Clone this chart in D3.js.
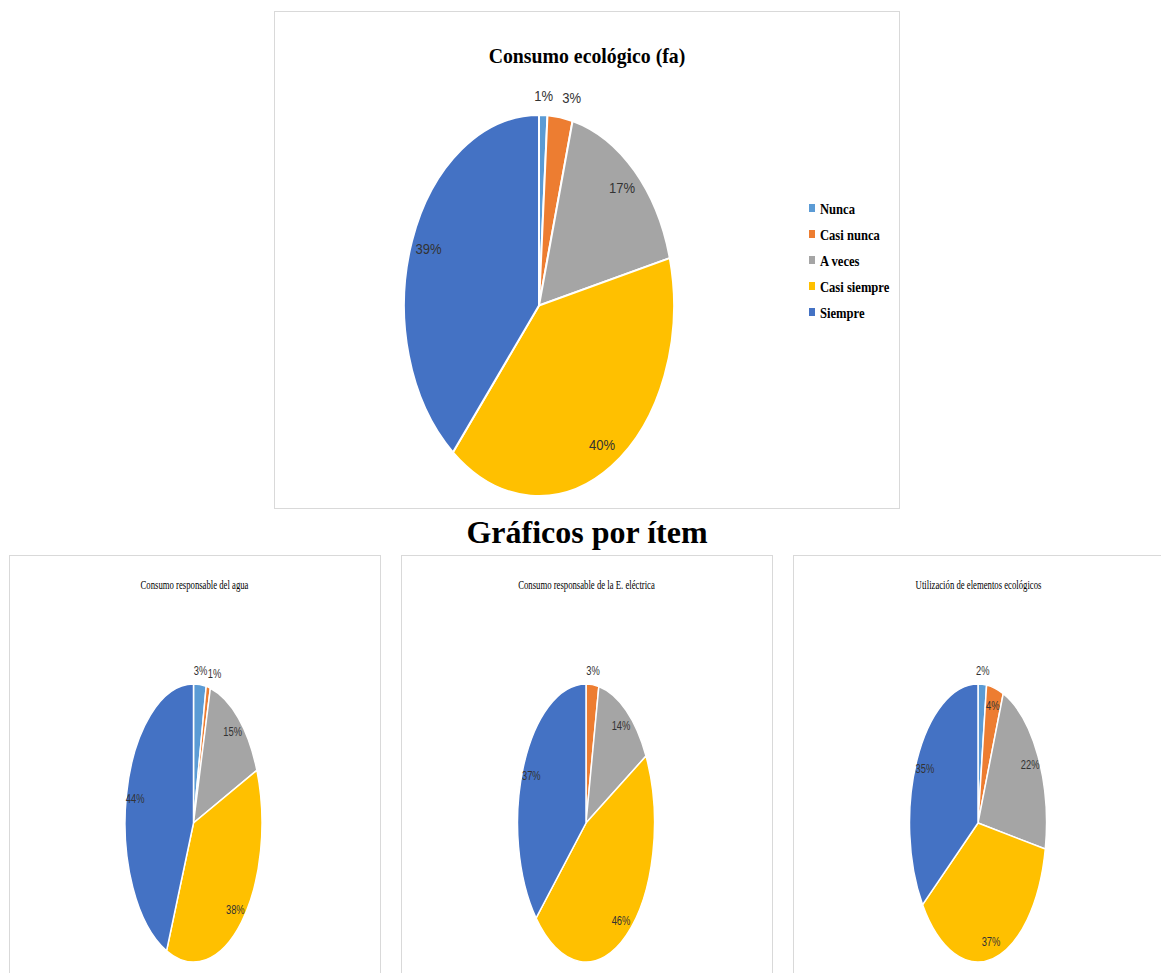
<!DOCTYPE html>
<html>
<head>
<meta charset="utf-8">
<script src="https://cdn.jsdelivr.net/npm/d3@7"></script>
<style>
  html, body { margin: 0; padding: 0; background: #fff; }
  svg { display: block; }
</style>
</head>
<body>
<svg id="chart" width="1161" height="973"></svg>
<script>
// Response categories and their colours
const categories = ["Nunca", "Casi nunca", "A veces", "Casi siempre", "Siempre"];
const colors = ["#5B9BD5", "#ED7D31", "#A5A5A5", "#FFC000", "#4472C4"];

// Overall result (percentages)
const mainTitle = "Consumo ecológico (fa)";
const mainValues = [1, 3, 17, 40, 39];

// Per-item results (percentages)
const sectionTitle = "Gráficos por ítem";
const itemTitles = [
  "Consumo responsable del agua",
  "Consumo responsable de la E. eléctrica",
  "Utilización de elementos ecológicos"
];
const waterValues = [3, 1, 15, 38, 44];
const electricValues = [0, 3, 14, 46, 37];
const ecoValues = [2, 4, 22, 37, 35];

const svg = d3.select("#chart");
const color = d3.scaleOrdinal().domain(categories).range(colors);
const pie = d3.pie().sort(null).value(d => d.value);

function frame(x, y, w, h) {
  svg.append("rect")
    .attr("x", x + 0.5).attr("y", y + 0.5)
    .attr("width", w).attr("height", h)
    .attr("fill", "#fff")
    .attr("stroke", "#d9d9d9").attr("stroke-width", 1);
}

// Elliptical pie: a fixed-radius arc scaled to (rx, ry)
function drawPie(values, cx, cy, rx, ry, opts) {
  const data = categories.map((c, i) => ({ cat: c, value: values[i] }));
  const arcs = pie(data);
  const R = 100;
  const arc = d3.arc().innerRadius(0).outerRadius(R);
  const g = svg.append("g").attr("transform", `translate(${cx},${cy}) scale(${rx / R},${ry / R})`);
  g.selectAll("path")
    .data(arcs.filter(a => a.data.value > 0))
    .join("path")
    .attr("d", arc)
    .attr("fill", d => color(d.data.cat))
    .attr("stroke", "#fff")
    .attr("stroke-width", opts.stroke)
    .attr("vector-effect", "non-scaling-stroke");

  // Data labels: inside for larger slices, above the rim for small ones
  const labels = [];
  arcs.forEach(a => {
    if (a.data.value <= 0) return;
    const mid = (a.startAngle + a.endAngle) / 2;
    const inside = a.data.value >= 4;
    const f = inside ? opts.inner : 1.1;
    labels.push({
      text: a.data.value + "%",
      x: cx + rx * f * Math.sin(mid),
      y: cy - ry * f * Math.cos(mid),
      inside
    });
  });
  // push apart neighbouring outer labels
  const outer = labels.filter(l => !l.inside);
  for (let i = 1; i < outer.length; i++) {
    const minGap = opts.labelGap;
    if (outer[i].x - outer[i - 1].x < minGap) outer[i].x = outer[i - 1].x + minGap;
  }
  labels.forEach(l => {
    svg.append("text")
      .attr("transform", `translate(${l.x},${l.y}) scale(${opts.labelScale},1)`)
      .attr("text-anchor", "middle")
      .attr("dominant-baseline", "central")
      .attr("font-family", "Liberation Sans, Arial, sans-serif")
      .attr("font-size", opts.labelSize)
      .attr("fill", "#333")
      .text(l.text);
  });
}

// ---- Main chart ----
frame(274, 11, 625, 497);
svg.append("text")
  .attr("transform", "translate(587,63) scale(0.9,1)")
  .attr("text-anchor", "middle")
  .attr("font-family", "Liberation Serif, Times New Roman, serif")
  .attr("font-weight", "bold")
  .attr("font-size", 22)
  .attr("fill", "#000")
  .text(mainTitle);

drawPie(mainValues, 539, 305.5, 135, 190.5,
  { stroke: 2, inner: 0.87, labelSize: 14.5, labelScale: 0.9, labelGap: 28 });

// legend
const legend = svg.append("g");
categories.forEach((c, i) => {
  const y = 209 + i * 26;
  legend.append("rect")
    .attr("x", 809).attr("y", y - 5)
    .attr("width", 6).attr("height", 8)
    .attr("fill", color(c));
  legend.append("text")
    .attr("transform", `translate(820,${y + 5}) scale(0.9,1)`)
    .attr("font-family", "Liberation Serif, Times New Roman, serif")
    .attr("font-weight", "bold")
    .attr("font-size", 14)
    .attr("fill", "#000")
    .text(c);
});

// ---- Section heading ----
svg.append("text")
  .attr("x", 587).attr("y", 543)
  .attr("text-anchor", "middle")
  .attr("font-family", "Liberation Serif, Times New Roman, serif")
  .attr("font-weight", "bold")
  .attr("font-size", 32)
  .attr("fill", "#000")
  .text(sectionTitle);

// ---- Item charts ----
const itemValues = [waterValues, electricValues, ecoValues];
const panels = [
  { x: 9, w: 371, cx: 193.5 },
  { x: 401, w: 371, cx: 586 },
  { x: 793, w: 371, cx: 978 }
];
panels.forEach((p, i) => {
  frame(p.x, 555, p.w, 430);
  svg.append("text")
    .attr("transform", `translate(${p.x + p.w / 2},${589}) scale(0.67,1)`)
    .attr("text-anchor", "middle")
    .attr("font-family", "Liberation Serif, Times New Roman, serif")
    .attr("font-size", 13)
    .attr("fill", "#000")
    .text(itemTitles[i]);
  drawPie(itemValues[i], p.cx, 823, 68.5, 139,
    { stroke: 1.5, inner: 0.87, labelSize: 13, labelScale: 0.72, labelGap: 14 });
});
</script>
</body>
</html>
